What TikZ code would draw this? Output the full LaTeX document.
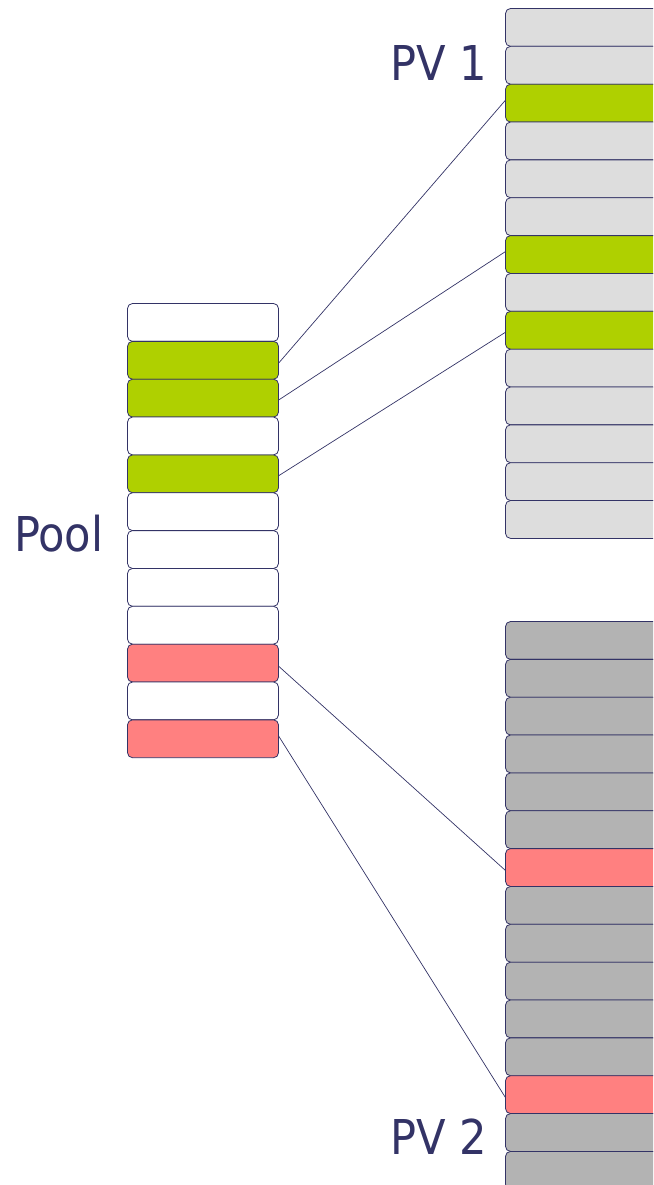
\documentclass[tikz,border=0pt]{standalone}
\usepackage{fontspec}
\setmainfont{DejaVu Sans Condensed}
\definecolor{navy}{HTML}{333366}
\definecolor{used}{HTML}{AFD000}
\definecolor{hot}{HTML}{FF8080}
\definecolor{pvone}{HTML}{DDDDDD}
\definecolor{pvtwo}{HTML}{B3B3B3}
\tikzset{
  extent/.style={draw=navy, line width=0.8pt, rounded corners=5pt, inner sep=0pt,
    outer sep=0pt, minimum height=37.85pt, anchor=north west},
  poolcell/.style={extent, minimum width=151pt},
  pvcell/.style={extent, minimum width=170pt},
  link/.style={draw=navy, line width=0.7pt},
  lbl/.style={text=navy, inner sep=0pt, font=\fontsize{48}{50}\selectfont}
}
\begin{document}
\begin{tikzpicture}[x=1pt,y=-1pt]
\useasboundingbox (0,0) rectangle (653,1185);
\clip (0,0) rectangle (653,1185);
% volume group pool
\foreach \c [count=\i from 0] in {white,used,used,white,used,white,white,white,white,hot,white,hot}
  \node[poolcell, fill=\c] (p\i) at (127.5,303.5+37.85*\i) {};
% physical volume 1
\foreach \c [count=\i from 0] in {pvone,pvone,used,pvone,pvone,pvone,used,pvone,used,pvone,pvone,pvone,pvone,pvone}
  \node[pvcell, fill=\c] (a\i) at (505.5,8.5+37.85*\i) {};
% physical volume 2
\foreach \c [count=\i from 0] in {pvtwo,pvtwo,pvtwo,pvtwo,pvtwo,pvtwo,hot,pvtwo,pvtwo,pvtwo,pvtwo,pvtwo,hot,pvtwo,pvtwo}
  \node[pvcell, fill=\c] (b\i) at (505.5,621.5+37.85*\i) {};
% labels
\node[lbl, anchor=base west] (lpool) at (14,551) {Pool};
\node[lbl, anchor=base east] (lpv1) at (487,81) {PV 1};
\node[lbl, anchor=base east] (lpv2) at (487,1154) {PV 2};
% extent mappings
\draw[link] ([yshift=-3pt]p1.east) -- ([yshift=3pt]a2.west);
\draw[link] ([yshift=-2pt]p2.east) -- ([yshift=3pt]a6.west);
\draw[link] ([yshift=-2pt]p4.east) -- ([yshift=-2pt]a8.west);
\draw[link] ([yshift=-3pt]p9.east) -- ([yshift=-3pt]b6.west);
\draw[link] ([yshift=3pt]p11.east) -- ([yshift=-3pt]b12.west);
\end{tikzpicture}
\end{document}
